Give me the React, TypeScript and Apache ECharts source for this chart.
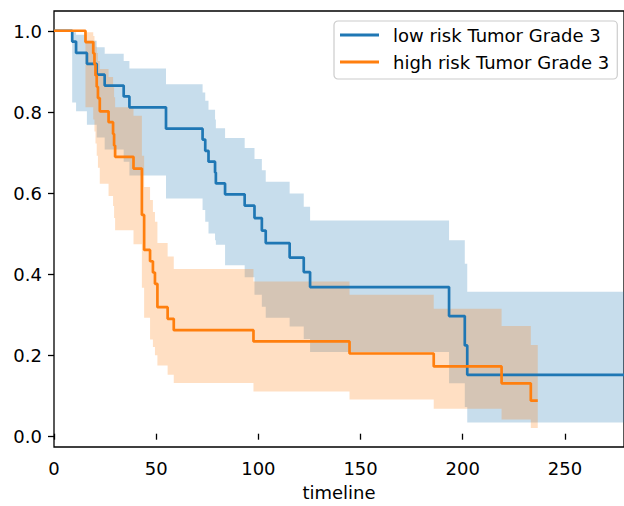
import React, { useEffect, useRef } from "react";
import * as echarts from "echarts";

// Low risk (blue) Kaplan-Meier estimate and confidence band
const lowRiskTimes = [0, 8.9, 10.8, 16.1, 20.9, 24.8, 34.1, 36.9, 54.8, 72.7, 74.0, 75.6, 78.8, 79.2, 83.7, 93.3, 98.1, 101.7, 103.6, 115.3, 122.2, 125.3, 193.3, 201.0, 202.2, 290];
const lowRiskSurv = [1.0, 0.973, 0.945, 0.918, 0.891, 0.864, 0.837, 0.81, 0.757, 0.73, 0.702, 0.675, 0.648, 0.621, 0.594, 0.566, 0.535, 0.504, 0.473, 0.437, 0.401, 0.364, 0.292, 0.219, 0.146, 0.146];
const lowRiskUpper = [1.0, 0.996, 0.99, 0.975, 0.959, 0.943, 0.925, 0.906, 0.867, 0.847, 0.826, 0.804, 0.78, 0.758, 0.734, 0.709, 0.682, 0.654, 0.625, 0.596, 0.563, 0.529, 0.48, 0.422, 0.352, 0.352];
const lowRiskLower = [1.0, 0.822, 0.8, 0.767, 0.735, 0.705, 0.675, 0.641, 0.584, 0.555, 0.526, 0.497, 0.48, 0.469, 0.418, 0.388, 0.345, 0.315, 0.288, 0.266, 0.235, 0.203, 0.125, 0.066, 0.028, 0.028];

// High risk (orange) Kaplan-Meier estimate and confidence band
const highRiskTimes = [0, 15.4, 19.2, 19.8, 20.3, 20.9, 21.5, 22.4, 26.7, 28.9, 29.4, 29.9, 38.9, 43.0, 44.1, 47.0, 48.4, 49.4, 50.6, 55.6, 58.6, 97.6, 144.6, 185.8, 219.0, 233.3, 236.7];
const highRiskSurv = [1.0, 0.972, 0.944, 0.917, 0.889, 0.861, 0.833, 0.8, 0.773, 0.744, 0.715, 0.687, 0.658, 0.543, 0.456, 0.428, 0.4, 0.372, 0.314, 0.285, 0.257, 0.229, 0.199, 0.167, 0.125, 0.082, 0.082];
const highRiskUpper = [1.0, 0.996, 0.987, 0.975, 0.96, 0.945, 0.925, 0.905, 0.885, 0.86, 0.835, 0.81, 0.789, 0.69, 0.612, 0.58, 0.55, 0.526, 0.473, 0.44, 0.409, 0.378, 0.345, 0.31, 0.267, 0.22, 0.22];
const highRiskLower = [1.0, 0.81, 0.78, 0.75, 0.72, 0.69, 0.66, 0.62, 0.59, 0.565, 0.535, 0.505, 0.47, 0.362, 0.288, 0.234, 0.215, 0.195, 0.169, 0.146, 0.126, 0.105, 0.085, 0.062, 0.035, 0.014, 0.014];

const seriesNames = ["low risk Tumor Grade 3", "high risk Tumor Grade 3"];
const xTickStep = 50;
const yTickStep = 0.2;

const FONT = "DejaVu Sans";
const BLUE = "#1f77b4";
const ORANGE = "#ff7f0e";

function pairs(times: number[], vals: number[]) {
  return times.map((t, i) => [t, vals[i]]);
}

// One step-shaped polygon per confidence band, built through the axis scales (api.coord)
function bandSeries(key: string, times: number[], lower: number[], upper: number[], color: string) {
  return {
    type: "custom",
    name: key + "-band",
    silent: true,
    z: 1,
    data: times.map((t, i) => [t, lower[i], upper[i]]),
    encode: { x: 0, y: [1, 2] },
    renderItem: (params: any, api: any) => {
      if (params.dataIndex !== 0) return null;
      const pts: number[][] = [];
      const n = times.length;
      for (let i = 0; i < n - 1; i++) {
        pts.push(api.coord([times[i], upper[i]]));
        pts.push(api.coord([times[i + 1], upper[i]]));
      }
      for (let i = n - 2; i >= 0; i--) {
        pts.push(api.coord([times[i + 1], lower[i]]));
        pts.push(api.coord([times[i], lower[i]]));
      }
      return {
        type: "polygon",
        shape: { points: pts },
        style: { fill: color, opacity: 0.25, stroke: "none" },
      };
    },
  };
}

export default function App() {
  const ref = useRef<HTMLDivElement>(null);
  useEffect(() => {
    document.body.style.margin = "0";
    const chart = echarts.init(ref.current!, null, { renderer: "svg" });
    const tickStyle = { color: "#000", width: 1.3 };
    const labelStyle = { fontSize: 18, fontFamily: FONT, color: "#000" };
    chart.setOption({
      animation: false,
      textStyle: { fontFamily: FONT },
      grid: [
        { left: 54, top: 11, width: 578, height: 439, show: true, borderColor: "#000", borderWidth: 1.3, backgroundColor: "transparent" },
        { left: 54, top: 31, width: 578, height: 405.7, show: false },
      ],
      xAxis: [
        {
          gridIndex: 0,
          type: "value",
          min: 0,
          max: 278.9,
          interval: xTickStep,
          axisLine: { show: false },
          axisTick: { show: true, length: 6, lineStyle: tickStyle },
          axisLabel: { ...labelStyle, margin: 12, showMaxLabel: false },
          splitLine: { show: false },
          name: "timeline",
          nameLocation: "middle",
          nameGap: 36,
          nameTextStyle: labelStyle,
        },
        { gridIndex: 1, type: "value", min: 0, max: 278.9, show: false },
      ],
      yAxis: [
        { gridIndex: 0, type: "value", min: -0.033, max: 1.049, show: false },
        {
          gridIndex: 1,
          type: "value",
          min: 0,
          max: 1,
          interval: yTickStep,
          axisLine: { show: false },
          axisTick: { show: true, length: 6, lineStyle: tickStyle },
          axisLabel: { ...labelStyle, margin: 12, formatter: (v: number) => v.toFixed(1) },
          splitLine: { show: false },
        },
      ],
      legend: {
        data: seriesNames,
        orient: "vertical",
        left: 334,
        top: 21,
        padding: [5, 8, 8, 6],
        itemWidth: 39,
        itemHeight: 3,
        itemGap: 9,
        icon: "rect",
        backgroundColor: "rgba(255,255,255,0.8)",
        borderColor: "#cccccc",
        borderWidth: 1.2,
        borderRadius: 4,
        textStyle: { ...labelStyle, padding: [0, 0, 0, 9] },
      },
      series: [
        bandSeries("low", lowRiskTimes, lowRiskLower, lowRiskUpper, BLUE),
        bandSeries("high", highRiskTimes, highRiskLower, highRiskUpper, ORANGE),
        {
          type: "line",
          name: seriesNames[0],
          step: "end",
          data: pairs(lowRiskTimes, lowRiskSurv),
          symbol: "none",
          lineStyle: { color: BLUE, width: 2.7 },
          itemStyle: { color: BLUE },
          z: 3,
        },
        {
          type: "line",
          name: seriesNames[1],
          step: "end",
          data: pairs(highRiskTimes, highRiskSurv),
          symbol: "none",
          lineStyle: { color: ORANGE, width: 2.7 },
          itemStyle: { color: ORANGE },
          z: 3,
        },
      ],
    });
    return () => chart.dispose();
  }, []);
  return <div ref={ref} style={{ position: "absolute", left: 0, top: 0, width: 624, height: 506 }} />;
}
